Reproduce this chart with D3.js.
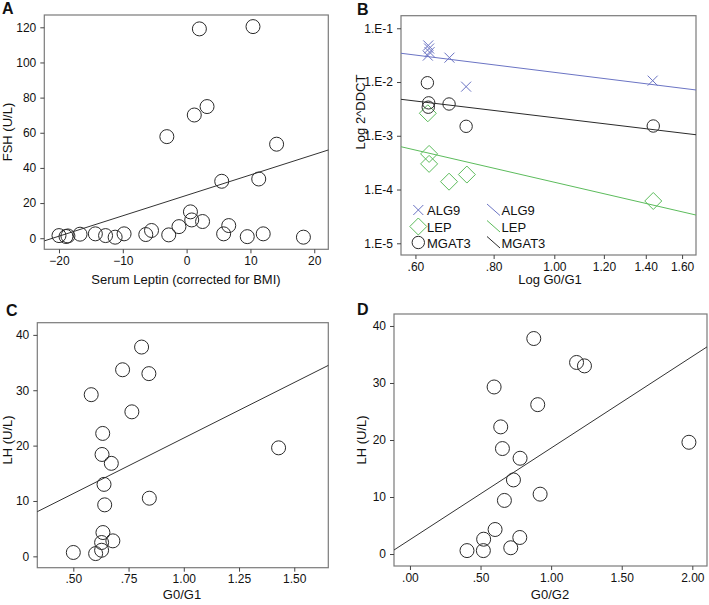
<!DOCTYPE html>
<html><head><meta charset="utf-8">
<script src="https://cdn.jsdelivr.net/npm/d3@7"></script>
<style>
html,body{margin:0;padding:0;background:#fff;}
svg{display:block;font-family:"Liberation Sans",Arial,sans-serif;}
</style></head>
<body><svg id="c" width="709" height="605"></svg>
<script>
// ---- Panel A data ----
const aLeptin = [2.0,10.4,1.2,3.2,-3.1,14.1,5.5,11.3,0.6,0.8,2.5,-1.2,6.6,-5.5,-6.4,-2.8,5.8,9.5,12.0,18.3,-9.8,-11.2,-12.7,-14.3,-16.7,-18.6,-18.9,-20.0];
const aFSH    = [119.1,120.4,70.1,74.9,57.8,53.5,32.4,33.7,15.0,10.4,9.5,6.6,7.2,4.4,2.1,1.9,2.5,0.9,2.5,0.6,2.5,0.6,1.5,2.5,2.3,1.3,1.0,1.5];
const aFit = [24.4, 1.162]; // intercept, slope
const aXTicks = [-20,-10,0,10,20];
const aYTicks = [0,20,40,60,80,100,120];

// ---- Panel B data ----
const bSeries = ["ALG9","LEP","MGAT3"];
const bAlgX = [0.629,0.631,0.628,0.632,0.680,0.723,1.436];
const bAlgY = [0.048,0.042,0.031,0.036,0.0284,0.0082,0.0106];
const bLepX = [0.628,0.631,0.631,0.679,0.725,1.439];
const bLepY = [0.00262,0.00046,0.00030,0.00014,0.00019,0.0000612];
const bMgaX = [0.627,0.630,0.629,0.679,0.723,1.439];
const bMgaY = [0.0097,0.0041,0.0034,0.0039,0.0015,0.00152];
const bFitIntercept = [-1.820,-3.864,-2.664]; // log10 y = a + b*log10 x
const bFitSlope     = [-1.449,-2.697,-1.399];
const bXTicks = [0.6,0.8,1.0,1.2,1.4,1.6];
const bYTicks = [1e-1,1e-2,1e-3,1e-4,1e-5];
const bYTickLabels = ["1.E-1","1.E-2","1.E-3","1.E-4","1.E-5"];

// ---- Panel C data ----
const cG0G1 = [0.809,0.723,0.842,0.581,0.765,0.633,0.630,1.429,0.672,0.639,0.642,0.844,0.634,0.628,0.679,0.628,0.601,0.500];
const cLH   = [37.8,33.7,33.0,29.2,26.1,22.2,18.4,19.6,16.8,13.0,9.3,10.5,4.3,2.5,2.8,1.1,0.5,0.7];
const cFit = [1.31, 20.06];
const cXTicks = [0.5,0.75,1.0,1.25,1.5];
const cYTicks = [0,10,20,30,40];

// ---- Panel D data ----
const dG0G2 = [0.877,1.180,1.236,0.596,0.905,0.643,0.655,1.976,0.780,0.733,0.669,0.922,0.603,0.522,0.778,0.714,0.520,0.404];
const dLH   = [37.8,33.6,33.0,29.3,26.2,22.3,18.5,19.6,16.8,13.0,9.4,10.5,4.3,2.6,2.9,1.1,0.6,0.6];
const dFit = [2.52, 16.07];
const dXTicks = [0,0.5,1.0,1.5,2.0];
const dYTicks = [0,10,20,30,40];

const svg = d3.select("#c");
const FRAME = "#7a7a7a", TXT = "#111", LINE = "#333";
const BLUE = "#6b74c4", GREEN = "#5cbc5c", DARK = "#2a2a2a";
const fmtSPSS = d => { const s = d3.format(".2f")(d); return s.replace(/^0\./, ".").replace(/^-0\./, "-."); };

function frame(g, x0, x1, y0, y1){
  g.append("rect").attr("x",x0).attr("y",y0).attr("width",x1-x0).attr("height",y1-y0)
    .attr("fill","none").attr("stroke",FRAME).attr("stroke-width",1.2);
}
function axes(g, x, y, xticks, yticks, xfmt, yfmt, y1, x0){
  const ax = g.append("g").attr("transform",`translate(0,${y1})`)
    .call(d3.axisBottom(x).tickValues(xticks).tickFormat(xfmt).tickSize(4).tickSizeOuter(0));
  const ay = g.append("g").attr("transform",`translate(${x0},0)`)
    .call(d3.axisLeft(y).tickValues(yticks).tickFormat(yfmt).tickSize(4).tickSizeOuter(0));
  [ax,ay].forEach(a=>{
    a.select(".domain").remove();
    a.selectAll(".tick line").attr("stroke","#444");
    a.selectAll(".tick text").attr("fill",TXT).style("font-size","12px").style("font-family","Liberation Sans, Arial, sans-serif");
  });
  ay.selectAll(".tick text").attr("dx","-1px");
}
function label(t, x, y, opts={}){
  const e = svg.append("text").attr("x",x).attr("y",y).text(t).attr("fill",TXT)
    .style("font-size",(opts.size||13)+"px");
  if(opts.bold) e.style("font-weight","bold");
  if(opts.anchor) e.attr("text-anchor",opts.anchor);
  if(opts.rot) e.attr("transform",`rotate(-90,${x},${y})`);
  return e;
}
function scatterPanel(xs, ys, fit, dom, box, xticks, yticks, xfmt, yfmt){
  const g = svg.append("g");
  const x = d3.scaleLinear().domain(dom.x).range([box.l, box.r]);
  const y = d3.scaleLinear().domain(dom.y).range([box.b, box.t]);
  frame(g, box.l, box.r, box.t, box.b);
  axes(g, x, y, xticks, yticks, xfmt, yfmt, box.b, box.l);
  g.append("line")
    .attr("x1",x(dom.x[0])).attr("y1",y(fit[0]+fit[1]*dom.x[0]))
    .attr("x2",x(dom.x[1])).attr("y2",y(fit[0]+fit[1]*dom.x[1]))
    .attr("stroke",LINE).attr("stroke-width",1);
  g.selectAll("circle.p").data(d3.zip(xs, ys)).join("circle")
    .attr("cx",d=>x(d[0])).attr("cy",d=>y(d[1])).attr("r",7)
    .attr("fill","none").attr("stroke",DARK).attr("stroke-width",1);
  return g;
}

// Panel A
scatterPanel(aLeptin, aFSH, aFit, {x:[-22.3,22.2], y:[-6.3,127]},
  {l:44.3, r:328.3, t:15, b:249.3}, aXTicks, aYTicks, d3.format("d"), d3.format("d"));
label("A", 2, 14, {bold:true, size:16});
label("Serum Leptin (corrected for BMI)", 186, 284, {anchor:"middle"});
label("FSH (U/L)", 12, 132, {anchor:"middle", rot:true});

// Panel B
(function(){
  const box = {l:401, r:696, t:15.7, b:255};
  const g = svg.append("g");
  const xd = [0.569, 1.684];
  const x = d3.scaleLog().domain(xd).range([box.l, box.r]);
  const y = d3.scaleLog().domain([Math.pow(10,-5.218), Math.pow(10,-0.766)]).range([box.b, box.t]);
  frame(g, box.l, box.r, box.t, box.b);
  axes(g, x, y, bXTicks, bYTicks, fmtSPSS, (d,i)=>bYTickLabels[i], box.b, box.l);
  const cols = [BLUE, GREEN, DARK];
  bSeries.forEach((s,i)=>{
    const f = xv => Math.pow(10, bFitIntercept[i] + bFitSlope[i]*Math.log10(xv));
    g.append("line").attr("x1",x(xd[0])).attr("y1",y(f(xd[0])))
      .attr("x2",x(xd[1])).attr("y2",y(f(xd[1])))
      .attr("stroke",cols[i]).attr("stroke-width",1);
  });
  // ALG9 crosses
  g.selectAll("path.alg").data(d3.zip(bAlgX,bAlgY)).join("path")
    .attr("d",d=>{const cx=x(d[0]), cy=y(d[1]), s=5; return `M${cx-s},${cy-s}L${cx+s},${cy+s}M${cx-s},${cy+s}L${cx+s},${cy-s}`;})
    .attr("stroke",BLUE).attr("stroke-width",1).attr("fill","none");
  // LEP diamonds
  g.selectAll("path.lep").data(d3.zip(bLepX,bLepY)).join("path")
    .attr("d",d=>{const cx=x(d[0]), cy=y(d[1]), s=8.5; return `M${cx},${cy-s}L${cx+s},${cy}L${cx},${cy+s}L${cx-s},${cy}Z`;})
    .attr("stroke",GREEN).attr("stroke-width",1).attr("fill","none");
  // MGAT3 circles
  g.selectAll("circle.mg").data(d3.zip(bMgaX,bMgaY)).join("circle")
    .attr("cx",d=>x(d[0])).attr("cy",d=>y(d[1])).attr("r",6.2)
    .attr("stroke",DARK).attr("stroke-width",1).attr("fill","none");
  // legend
  const ly = [210, 226.5, 242.5];
  bSeries.forEach((s,i)=>{
    const cx = 418.3, cy = ly[i];
    if(i===0) g.append("path").attr("d",`M${cx-5},${cy-5}L${cx+5},${cy+5}M${cx-5},${cy+5}L${cx+5},${cy-5}`).attr("stroke",BLUE).attr("fill","none");
    if(i===1) g.append("path").attr("d",`M${cx},${cy-8.5}L${cx+8.5},${cy}L${cx},${cy+8.5}L${cx-8.5},${cy}Z`).attr("stroke",GREEN).attr("fill","none");
    if(i===2) g.append("circle").attr("cx",cx).attr("cy",cy).attr("r",6.2).attr("stroke",DARK).attr("fill","none");
    g.append("text").attr("x",427).attr("y",cy+5).text(s).attr("fill",TXT).style("font-size","13px");
    g.append("line").attr("x1",487).attr("y1",cy-6).attr("x2",500).attr("y2",cy+5.5).attr("stroke",cols[i]).attr("stroke-width",1);
    g.append("text").attr("x",501.5).attr("y",cy+5).text(s).attr("fill",TXT).style("font-size","13px");
  });
})();
label("B", 357, 15, {bold:true, size:16});
label("Log G0/G1", 550, 284, {anchor:"middle"});
label("Log 2^DDCT", 365, 112, {anchor:"middle", rot:true});

// Panel C
scatterPanel(cG0G1, cLH, cFit, {x:[0.337,1.654], y:[-2.05,42.2]},
  {l:37.3, r:328.3, t:322.7, b:567.7}, cXTicks, cYTicks, fmtSPSS, d3.format("d"));
label("C", 6, 316, {bold:true, size:16});
label("G0/G1", 182, 599, {anchor:"middle"});
label("LH (U/L)", 12, 440, {anchor:"middle", rot:true});

// Panel D
scatterPanel(dG0G2, dLH, dFit, {x:[-0.113,2.104], y:[-2.1,42.1]},
  {l:394, r:707, t:314, b:566}, dXTicks, dYTicks, fmtSPSS, d3.format("d"));
label("D", 357, 315, {bold:true, size:16});
label("G0/G2", 550, 599, {anchor:"middle"});
label("LH (U/L)", 366, 440, {anchor:"middle", rot:true});
</script>
</body></html>
